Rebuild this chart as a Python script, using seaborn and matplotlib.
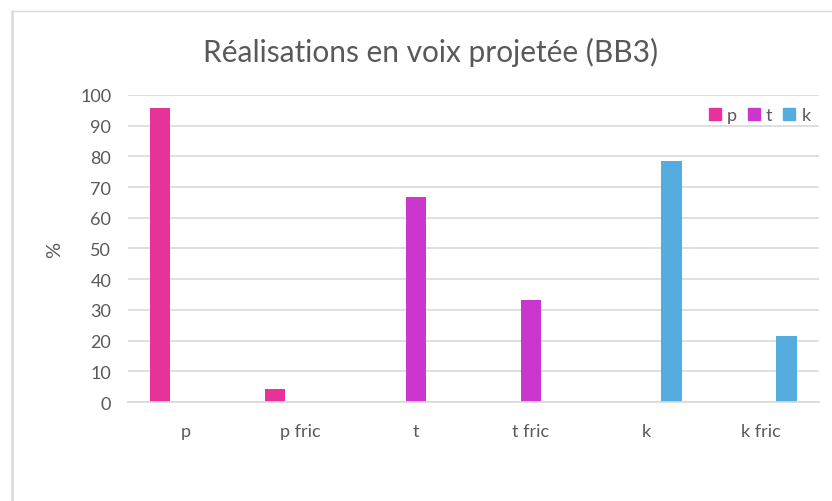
import matplotlib
matplotlib.use("Agg")
import matplotlib.pyplot as plt
from matplotlib.patches import Rectangle
import seaborn as sns
import pandas as pd

categories = ["p", "p fric", "t", "t fric", "k", "k fric"]
series = ["p", "t", "k"]
p_vals = [95.7, 4.3, 0, 0, 0, 0]
t_vals = [0, 0, 66.7, 33.3, 0, 0]
k_vals = [0, 0, 0, 0, 78.6, 21.4]
yticks = [0, 10, 20, 30, 40, 50, 60, 70, 80, 90, 100]

colors = {"p": "#E6329A", "t": "#CB36CF", "k": "#55ACDE"}
text_color = "#595959"
grid_color = "#D9D9D9"

rows = []
for name, vals in zip(series, [p_vals, t_vals, k_vals]):
    for cat, v in zip(categories, vals):
        rows.append({"cat": cat, "serie": name, "val": v})
df = pd.DataFrame(rows)

sns.set_theme(style="white")
plt.rcParams["font.family"] = ["Lato", "DejaVu Sans"]

fig = plt.figure(figsize=(8.32, 5.02), dpi=100)
ax = fig.add_axes([0.1537, 0.1972, 0.8305, 0.6116])

sns.barplot(data=df, x="cat", y="val", hue="serie", order=categories,
            hue_order=series, palette=colors, width=0.663, gap=0.195,
            saturation=1, linewidth=0, ax=ax, legend=False)

ax.set_ylim(0, 100)
ax.set_xlim(-0.5, len(categories) - 0.5)
ax.set_yticks(yticks)
ax.yaxis.grid(True, color=grid_color, linewidth=1.2)
ax.set_axisbelow(True)
for s in ["top", "right", "left"]:
    ax.spines[s].set_visible(False)
ax.spines["bottom"].set_color(grid_color)
ax.spines["bottom"].set_linewidth(1.2)
ax.tick_params(axis="both", length=0, labelsize=13, colors=text_color)
ax.tick_params(axis="x", pad=15)
ax.tick_params(axis="y", pad=12)
ax.set_xlabel("")
ax.set_ylabel("%", fontsize=14.5, color=text_color, labelpad=12)

fig.suptitle("Réalisations en voix projetée (BB3)", x=0.517, y=0.925,
             fontsize=21.5, color=text_color)

handles = [Rectangle((0, 0), 1, 1, color=colors[s]) for s in series]
leg = fig.legend(handles, series, loc="center right", ncol=3,
                 bbox_to_anchor=(0.985, 0.768), frameon=False,
                 fontsize=13, handlelength=0.65, handleheight=0.65,
                 handletextpad=0.35, columnspacing=0.6, borderpad=0)
for t in leg.get_texts():
    t.set_color(text_color)

# light frame around the chart area
fig.add_artist(plt.Line2D([0.0150, 0.0150], [0, 0.977], transform=fig.transFigure,
                          color=grid_color, linewidth=1.8))
fig.add_artist(plt.Line2D([0.0150, 1.0], [0.977, 0.977], transform=fig.transFigure,
                          color=grid_color, linewidth=1.0))

fig.savefig("out.png", dpi=100, facecolor="white")
